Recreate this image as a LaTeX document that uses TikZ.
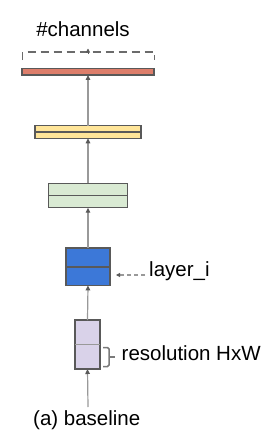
\documentclass[tikz,border=0pt]{standalone}
\usepackage{fontspec}
\setmainfont{Liberation Sans}
\usetikzlibrary{arrows.meta}
\definecolor{cred}{HTML}{DD7E6B}
\definecolor{cyellow}{HTML}{FFE599}
\definecolor{cgreen}{HTML}{D9EAD3}
\definecolor{cblue}{HTML}{3C78D8}
\definecolor{clav}{HTML}{D9D2E9}
\definecolor{cborder}{HTML}{595959}
\definecolor{carrow}{HTML}{999999}
\tikzset{
  layerbox/.style={draw=cborder, line width=1.2pt, inner sep=0pt, outer sep=0pt},
  flow/.style={draw=carrow, line width=1.2pt, -{Triangle[length=5pt,width=4.5pt,color=cborder]}},
  lbl/.style={font=\fontsize{20.5pt}{24pt}\selectfont, inner sep=0pt, anchor=west},
}
\begin{document}
\begin{tikzpicture}[x=1pt,y=-1pt]
\useasboundingbox (0,0) rectangle (270,442);
% boxes
\node[layerbox, fill=cred, minimum width=132pt, minimum height=6.5pt] (red) at (88,71.7) {};
\node[layerbox, fill=cyellow, minimum width=106pt, minimum height=12.6pt] (yel) at (88,132) {};
\draw[cborder, line width=1.2pt] (yel.west) -- (yel.east);
\node[layerbox, fill=cgreen, minimum width=79pt, minimum height=24.4pt] (grn) at (88,195.5) {};
\draw[cborder, line width=1.2pt] (grn.west) -- (grn.east);
\node[layerbox, fill=cblue, minimum width=44pt, minimum height=37.3pt] (blu) at (88,266.7) {};
\draw[cborder, line width=2pt] (blu.west) -- (blu.east);
\node[layerbox, fill=clav, minimum width=25pt, minimum height=49pt] (lav) at (87.5,344.5) {};
\draw[carrow, line width=1.2pt] (lav.west) -- (lav.east);
% input
\coordinate (in) at (88,407);
\draw[flow] (in) -- (lav.south);
\draw[flow] (lav.north) -- (blu.south);
\draw[flow] (blu.north) -- (grn.south);
\draw[flow] (grn.north) -- (yel.south);
\draw[flow] (yel.north) -- (red.south);
% dashed bracket
\coordinate (bl) at (22.5,60);
\coordinate (br) at (154.5,60);
\draw[carrow!70!black, line width=1.5pt, dash pattern=on 8pt off 5pt] (bl) -- ++(0,-8) -- (154.5,52) -- (br);
\coordinate (tipbase) at (88,54);
\coordinate (tiptop) at (88,48.5);
\draw[cborder, line width=0.8pt, -{Triangle[length=4pt,width=4pt]}] (tipbase) -- (tiptop);
\node[lbl, anchor=center] (ch) at (83,29) {\#channels};
% layer_i
\node[lbl] (li) at (149,271) {layer\_i};
\coordinate (lstart) at (145,275);
\coordinate (lend) at (116,275);
\draw[carrow, line width=1.2pt, dash pattern=on 4pt off 3pt, -{Triangle[length=4pt,width=4pt,color=cborder]}] (lstart) -- (lend);
% resolution brace
\draw[cborder!80, line width=1.5pt, rounded corners=1.5pt] (103,347.5) -- (109,347.5) -- (109,366.5) -- (103,366.5);
\coordinate (bm) at (109,357);
\coordinate (bt) at (115,357);
\draw[cborder!80, line width=1.5pt] (bm) -- (bt);
\node[lbl] (res) at (121.5,353) {resolution HxW};
% caption
\node[lbl] (cap) at (33,420) {(a) baseline};
\end{tikzpicture}
\end{document}
